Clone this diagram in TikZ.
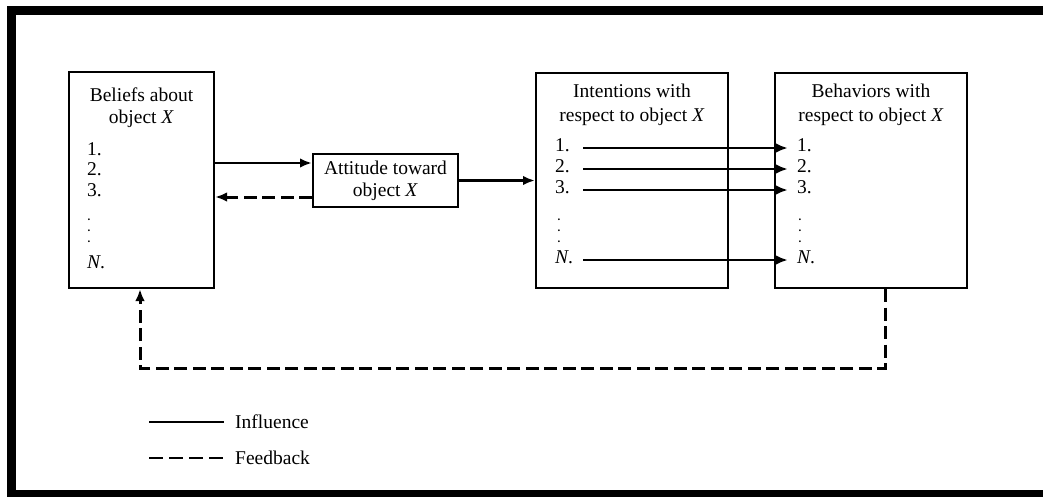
\documentclass[tikz,border=0pt]{standalone}
\usepackage{fontspec}
\setmainfont{Liberation Serif}
\usepackage{tikz}
\usetikzlibrary{arrows.meta}
\usetikzlibrary{calc}
\tikzset{box/.style={shape=rectangle, draw=black, line width=2pt}}
\tikzset{influence line/.style={line width=2.8pt}}
\tikzset{feedback line/.style={line width=3pt, dash pattern=on 13pt off 5.5pt}}
\tikzset{belitem/.style={anchor=west, inner sep=0pt, text height=0.68em, text depth=0pt}}
\tikzset{intitem/.style={anchor=west, inner sep=0pt, text width=28pt, align=left, text height=0.68em, text depth=0pt}}
\tikzset{behitem/.style={anchor=west, inner xsep=9pt, inner ysep=0pt, text height=0.68em, text depth=0pt}}
\tikzset{dotcol/.style={align=left, inner sep=0pt, font=\fontsize{11}{11}\bfseries}}
\tikzset{legend/.style={anchor=west, inner xsep=11pt, inner ysep=0pt}}

\begin{document}
\begin{tikzpicture}[x=1pt, y=-1pt, font=\fontsize{19.5}{22}\selectfont, >={Latex[length=12pt,width=9.5pt]}]
		\useasboundingbox (0,0) rectangle (1043,496);
		% frame
		\draw[line width=9pt] (1060,10.5) -- (11.5,10.5) -- (11.5,494.5) -- (1060,494.5);
		% the four boxes
		\node[box, minimum width=145pt, minimum height=216pt] (beliefs) at (141.5,180) {};
		\node[box, minimum width=145pt, minimum height=53pt, align=center] (attitude) at (385.5,180.5) {Attitude toward\\object \textit{X}};
		\node[box, minimum width=192pt, minimum height=215pt] (intentions) at (632,180.5) {};
		\node[box, minimum width=192pt, minimum height=215pt] (behaviors) at (871,180.5) {};
		\node[align=center, inner sep=0pt] (beliefstitle) at (141.5,107.5) {Beliefs about\\object \textit{X}};
		\node[align=center, inner sep=0pt, font=\fontsize{19.5}{24}\selectfont] (intentionstitle) at (632,105) {Intentions with\\respect to object \textit{X}};
		\node[align=center, inner sep=0pt, font=\fontsize{19.5}{24}\selectfont] (behaviorstitle) at (871,105) {Behaviors with\\respect to object \textit{X}};
		% beliefs list
		\node[belitem] (bel1) at (87,152) {1.};
		\node[belitem] (bel2) at (87,172) {2.};
		\node[belitem] (bel3) at (87,193) {3.};
		\node[dotcol] (beldots) at (89,231) {.\\.\\.};
		\node[belitem] (belN) at (87,265) {\textit{N}.};
		% intentions list
		\node[intitem] (int1) at (555,148) {1.};
		\node[intitem] (int2) at (555,169) {2.};
		\node[intitem] (int3) at (555,190) {3.};
		\node[dotcol] (intdots) at (559,231) {.\\.\\.};
		\node[intitem] (intN) at (555,260) {\textit{N}.};
		% behaviors list
		\node[behitem] (beh1) at (788,148) {1.};
		\node[behitem] (beh2) at (788,169) {2.};
		\node[behitem] (beh3) at (788,190) {3.};
		\node[dotcol] (behdots) at (800,231) {.\\.\\.};
		\node[behitem] (behN) at (788,260) {\textit{N}.};
		% influence
		\coordinate (attin) at ([yshift=17.5pt]attitude.west);
		\coordinate (attout) at ([yshift=-16.5pt]attitude.west);
		\path[->, influence line] (attin -| beliefs.east) edge (attin);
		\path[->, influence line] (attitude) edge (intentions);
		\foreach \n in {1,2,3,N}
			\path[->, influence line] (int\n) edge (beh\n);
		% feedback
		\path[->, feedback line] (attout) edge (attout -| beliefs.east);
		\draw[->, feedback line] ([xshift=14pt]behaviors.south) -- ++(0,79) -| ([xshift=-1.5pt]beliefs.south);
		% legend
		\coordinate (inflstart) at (149,422);
		\coordinate (feedstart) at (149,458);
		\node[legend] (influence) at (224,422) {Influence};
		\node[legend] (feedback) at (224,458) {Feedback};
		\draw[influence line] (inflstart) -- (influence);
		\draw[line width=2.8pt, dash pattern=on 14pt off 6pt] (feedstart) -- (feedback);
	\end{tikzpicture}
\end{document}
